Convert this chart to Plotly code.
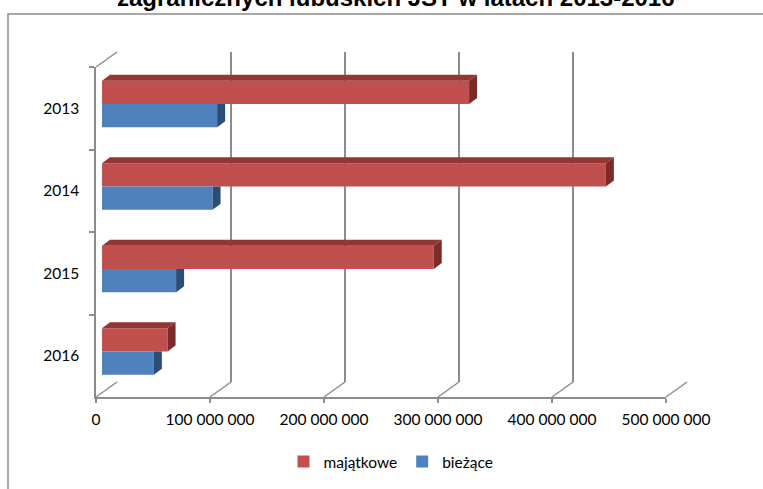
import plotly.graph_objects as go

# ---------------- data ----------------
years = [2013, 2014, 2015, 2016]
year_labels = ["2013", "2014", "2015", "2016"]
majatkowe = [322_000_000, 442_000_000, 291_000_000, 57_500_000]
biezace = [101_000_000, 97_000_000, 65_000_000, 45_500_000]
tick_values = [0, 100_000_000, 200_000_000, 300_000_000, 400_000_000, 500_000_000]
tick_labels = ["0", "100 000 000", "200 000 000", "300 000 000", "400 000 000", "500 000 000"]
series_names = ["majątkowe", "bieżące"]
title_text = "zagranicznych lubuskich JST w latach 2013-2016"

# ---------------- geometry (pixels) ----------------
W, H = 763, 489
XMAX = 500_000_000


def px(x):
    return x / W


def py(y):
    return 1 - y / H


FX0, FX1 = 96, 666      # front plane: pixel of 0 and XMAX
FY0, FY1 = 67, 397      # front plane: top / bottom
DX, DY = 21, -15        # depth vector front -> back wall
BAR_DEPTH = 6 / 21      # bar front face depth fraction
BX0 = FX0 + BAR_DEPTH * DX
BSHIFT = BAR_DEPTH * DY
CAT_PX = (FY1 - FY0) / 4

# 3D bar thickness
SIDE_DX_PX, SIDE_DY_PX = 8, 6
dxv = SIDE_DX_PX * XMAX / (FX1 - FX0)
dyv = SIDE_DY_PX / CAT_PX
w = 23.3 / CAT_PX

GRID = "#8C8C8C"
RED, RED_TOP, RED_SIDE = "#C0504D", "#943634", "#7B2C2A"
BLUE, BLUE_SIDE = "#4F81BD", "#2C4D75"
FONT = "Lato"

fig = go.Figure()

# back wall subplot (x, y): invisible helper trace
fig.add_trace(go.Scatter(x=[0], y=[0], mode="markers", marker=dict(opacity=0),
                         showlegend=False, hoverinfo="skip", xaxis="x", yaxis="y"))
# front plane subplot (x2, y2): holds the category labels
fig.add_trace(go.Scatter(x=[0] * len(year_labels), y=year_labels, mode="markers",
                         marker=dict(opacity=0), showlegend=False, hoverinfo="skip",
                         xaxis="x2", yaxis="y2"))

# bars (front faces)
fig.add_trace(go.Bar(orientation="h", x=majatkowe, y=years, offset=-w, width=w,
                     name=series_names[0], marker=dict(color=RED, line=dict(width=0)),
                     xaxis="x3", yaxis="y3"))
fig.add_trace(go.Bar(orientation="h", x=biezace, y=years, offset=0, width=w,
                     name=series_names[1], marker=dict(color=BLUE, line=dict(width=0)),
                     xaxis="x3", yaxis="y3"))

# 3D faces computed from the data
top_x, top_y, sr_x, sr_y, sb_x, sb_y = [], [], [], [], [], []
for Y, v in zip(years, majatkowe):
    yt = Y - w
    top_x += [0, v, v + dxv, dxv, 0, None]
    top_y += [yt, yt, yt - dyv, yt - dyv, yt, None]
    sr_x += [v, v, v + dxv, v + dxv, v, None]
    sr_y += [yt, Y, Y - dyv, yt - dyv, yt, None]
for Y, v in zip(years, biezace):
    sb_x += [v, v, v + dxv, v + dxv, v, None]
    sb_y += [Y, Y + w, Y + w - dyv, Y, Y, None]

for xs, ys, col in [(top_x, top_y, RED_TOP), (sr_x, sr_y, RED_SIDE), (sb_x, sb_y, BLUE_SIDE)]:
    fig.add_trace(go.Scatter(x=xs, y=ys, mode="lines", fill="toself", fillcolor=col,
                             line=dict(width=0, color=col), showlegend=False,
                             hoverinfo="skip", xaxis="x3", yaxis="y3"))

# decorative 3D frame lines
shapes = []
for t in tick_values:
    xf = FX0 + t / XMAX * (FX1 - FX0)
    shapes.append(dict(type="line", xref="paper", yref="paper",
                       x0=px(xf), y0=py(FY1), x1=px(xf + DX), y1=py(FY1 + DY),
                       line=dict(color=GRID, width=1.5), layer="below"))
shapes.append(dict(type="line", xref="paper", yref="paper",
                   x0=px(FX0), y0=py(FY0), x1=px(FX0 + DX), y1=py(FY0 + DY),
                   line=dict(color=GRID, width=1.5), layer="below"))
# chart area border
shapes.append(dict(type="rect", xref="paper", yref="paper",
                   x0=px(8), y0=py(14), x1=px(W + 20), y1=py(H + 20),
                   line=dict(color=GRID, width=1.5), layer="below"))

tickfont = dict(family=FONT, size=15.5, color="#000000")

fig.update_layout(
    template="none",
    width=W, height=H,
    margin=dict(l=0, r=0, t=0, b=0, pad=0, autoexpand=False),
    paper_bgcolor="white",
    plot_bgcolor="rgba(0,0,0,0)",
    barmode="overlay",
    shapes=shapes,
    showlegend=True,
    legend=dict(orientation="h", x=px(391), xanchor="center", y=py(462), yanchor="middle",
                font=dict(family=FONT, size=15.5, color="#000000"),
                bgcolor="rgba(0,0,0,0)", itemwidth=30),
    annotations=[dict(text=title_text, x=px(396), y=py(-3), xref="paper", yref="paper",
                      xanchor="center", yanchor="middle", showarrow=False,
                      font=dict(family="Liberation Sans", size=24, color="#000000",
                                weight="bold"))],
    # back wall
    xaxis=dict(domain=[px(FX0 + DX), px(FX1 + DX)], range=[0, XMAX], anchor="y",
               tickvals=tick_values, showticklabels=False, ticks="", automargin=False,
               showgrid=True, gridcolor=GRID, gridwidth=1.5, zeroline=False, showline=False),
    yaxis=dict(domain=[py(FY1 + DY), py(FY0 + DY)], range=[0, 1], anchor="x",
               automargin=False, showgrid=False, zeroline=False, showticklabels=False,
               showline=False, ticks=""),
    # front plane
    xaxis2=dict(domain=[px(FX0), px(FX1)], range=[0, XMAX], anchor="y2", automargin=False,
                tickvals=tick_values, ticktext=tick_labels, ticks="outside", ticklen=4,
                tickcolor=GRID, tickwidth=1.5, showline=True, linecolor=GRID, linewidth=1.5,
                showgrid=False, zeroline=False, tickfont=tickfont, ticklabelstandoff=4),
    yaxis2=dict(domain=[py(FY1), py(FY0)], type="category", categoryarray=year_labels,
                categoryorder="array", range=[3.5, -0.5], anchor="x2", tickson="boundaries",
                automargin=False, ticks="outside", ticklen=5, tickcolor=GRID, tickwidth=1.5,
                showline=True, linecolor=GRID, linewidth=1.5, showgrid=False, zeroline=False,
                tickfont=tickfont, ticklabelstandoff=12),
    # bar plane
    xaxis3=dict(domain=[px(BX0), px(BX0 + FX1 - FX0)], range=[0, XMAX], anchor="y3",
                visible=False, automargin=False),
    yaxis3=dict(domain=[py(FY1 + BSHIFT), py(FY0 + BSHIFT)],
                range=[years[-1] + 0.5, years[0] - 0.5], anchor="x3", visible=False,
                automargin=False),
)

fig.write_html("out.html", config={"displayModeBar": False},
               post_script="document.body.style.margin='0';")
